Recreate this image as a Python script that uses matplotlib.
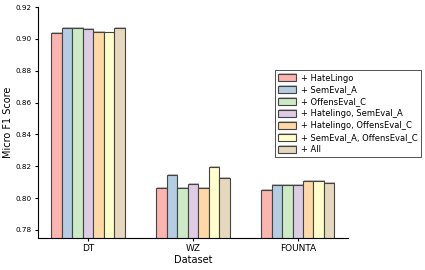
import matplotlib
matplotlib.use('Agg')
import matplotlib.pyplot as plt
import matplotlib.patheffects as pe
import numpy as np

# Micro F1 scores per dataset for each added training set
datasets = ['DT', 'WZ', 'FOUNTA']
labels = ['+ HateLingo', '+ SemEval_A', '+ OffensEval_C', '+ Hatelingo, SemEval_A',
          '+ Hatelingo, OffensEval_C', '+ SemEval_A, OffensEval_C', '+ All']
hatelingo = [0.9038, 0.8063, 0.8050]
semeval_a = [0.9067, 0.8146, 0.8085]
offenseval_c = [0.9067, 0.8063, 0.8085]
hl_semeval = [0.9060, 0.8088, 0.8081]
hl_offenseval = [0.9042, 0.8066, 0.8106]
semeval_offenseval = [0.9040, 0.8194, 0.8106]
all_sets = [0.9068, 0.8125, 0.8096]

series = [hatelingo, semeval_a, offenseval_c, hl_semeval, hl_offenseval,
          semeval_offenseval, all_sets]
colors = ['#fbb4ae', '#b3cde3', '#ccebc5', '#decbe4', '#fed9a6', '#ffffcc', '#e5d8bd']

fig = plt.figure(figsize=(4.25, 2.7), dpi=100)
ax = fig.add_axes([0.089, 0.119, 0.73, 0.855])

x = np.arange(len(datasets))
width = 0.1
shadow = [pe.SimplePatchShadow(offset=(0.6, 0.6), shadow_rgbFace='gray', alpha=0.5), pe.Normal()]
for i, (vals, lab) in enumerate(zip(series, labels)):
    ax.bar(x + (i - 3) * width, vals, width, label=lab, color=colors[i],
           edgecolor='#444444', linewidth=0.8, path_effects=shadow)

ax.set_ylim(0.775, 0.92)
ax.set_xlim(-0.48, 2.48)
ax.set_xticks(x)
ax.set_xticklabels(datasets, fontsize=6.5)
ax.set_yticks(np.arange(0.78, 0.921, 0.02))
ax.yaxis.set_major_formatter(plt.FuncFormatter(lambda v, p: f'{v:.2f}'))
ax.tick_params(axis='y', labelsize=5.2, length=2.5, pad=2)
ax.tick_params(axis='x', length=2.5, pad=2)
ax.set_xlabel('Dataset', fontsize=7, labelpad=1)
ax.set_ylabel('Micro F1 Score', fontsize=7, labelpad=2)
ax.spines['top'].set_visible(False)
ax.spines['right'].set_visible(False)

leg = ax.legend(loc='center left', bbox_to_anchor=(0.75, 0.537), fontsize=6,
                fancybox=False, edgecolor='#333333', framealpha=1,
                handlelength=2.2, handleheight=0.9, labelspacing=0.35,
                borderpad=0.4, handletextpad=0.6)
leg.get_frame().set_linewidth(0.6)

fig.savefig('out.png', dpi=100)
